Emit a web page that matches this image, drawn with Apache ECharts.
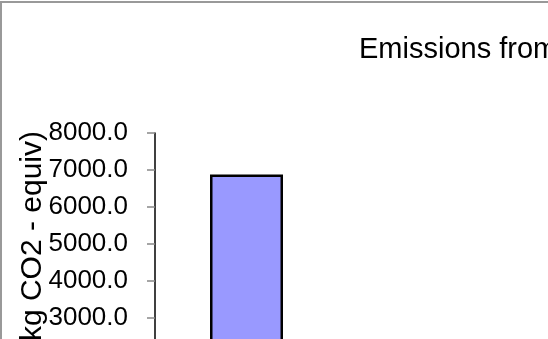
<!DOCTYPE html>
<html>
<head>
<meta charset="utf-8">
<script src="https://cdn.jsdelivr.net/npm/echarts@6/dist/echarts.min.js"></script>
<style>
html,body{margin:0;padding:0;background:#fff;}
#chart{width:548px;height:339px;}
</style>
</head>
<body>
<div id="chart"></div>
<script>
const titleText = "Emissions from";
const axisTitle = "(kg CO2 - equiv)";
const categories = ["Total"];
const emissions = [6880];
const yMin = 0, yMax = 8000, yStep = 1000;

const chart = echarts.init(document.getElementById('chart'), null, {renderer: 'canvas'});
chart.setOption({
  backgroundColor: '#ffffff',
  animation: false,
  title: {
    text: titleText,
    left: 354,
    top: 30,
    textStyle: {fontFamily: 'Liberation Sans, Arial, sans-serif', fontSize: 29, fontWeight: 'normal', color: '#000'}
  },
  grid: {left: 155, top: 133, width: 183, height: 296, containLabel: false, outerBoundsMode: 'none'},
  xAxis: {
    type: 'category',
    data: categories,
    axisLine: {lineStyle: {color: '#000', width: 1.5}},
    axisTick: {show: false},
    axisLabel: {show: false}
  },
  yAxis: {
    type: 'value',
    min: yMin, max: yMax, interval: yStep,
    axisLine: {show: true, lineStyle: {color: '#000', width: 1.5}},
    axisTick: {show: true, length: 8, lineStyle: {color: '#888', width: 1.5}},
    splitLine: {show: false},
    axisLabel: {
      margin: 27,
      hideOverlap: false,
      showMaxLabel: true,
      formatter: v => v.toFixed(1),
      fontFamily: 'Liberation Sans, Arial, sans-serif',
      fontSize: 26,
      color: '#000'
    }
  },
  graphic: [
    {type: 'rect', shape: {x: 1, y: 2, width: 700, height: 500}, style: {fill: 'none', stroke: '#999', lineWidth: 2}, z: 100},
    {type: 'text', x: 33, y: 131, rotation: Math.PI / 2,
     style: {text: axisTitle, fontFamily: 'Liberation Sans, Arial, sans-serif', fontSize: 30, fill: '#000', textAlign: 'right', textVerticalAlign: 'middle'}, z: 50}
  ],
  series: [{
    type: 'bar',
    data: emissions,
    barWidth: 73,
    itemStyle: {color: '#9999FF', borderColor: '#000', borderWidth: 2.5}
  }]
});
</script>
</body>
</html>
